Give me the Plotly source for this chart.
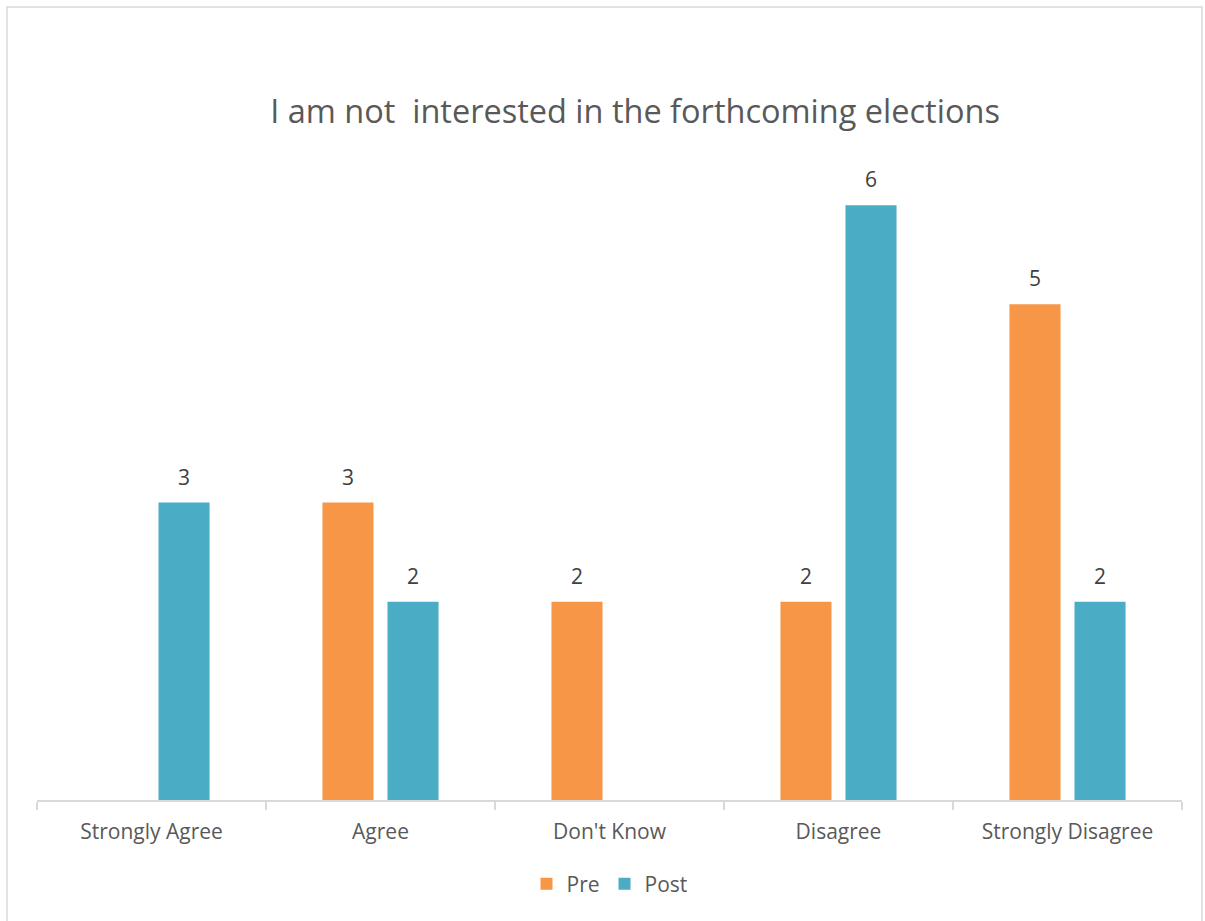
import plotly.graph_objects as go

categories = ["Strongly Agree", "Agree", "Don't Know", "Disagree", "Strongly Disagree"]
pre_values = [None, 3, 2, 2, 5]
post_values = [3, 2, None, 6, 2]
series_names = ["Pre", "Post"]
colors = ["#F79646", "#4BACC6"]
title_text = "I am not  interested in the forthcoming elections"

FONT = "Open Sans, Lato, sans-serif"

W, H = 1205, 921
ml, mr, mt, mb = 37, 23, 106, 121
pw, ph = W - ml - mr, H - mt - mb
BARGAP, GROUPGAP = 0.432, 0.215

fig = go.Figure()
for name, vals, col in zip(series_names, [pre_values, post_values], colors):
    fig.add_trace(go.Bar(
        name=name, x=categories, y=vals, marker_color=col,
        marker_line_width=0,
    ))

# data labels centred over each bar, offset derived from the bar layout
slot = pw / len(categories) * (1 - BARGAP) / len(series_names)
annotations = []
for i, vals in enumerate([pre_values, post_values]):
    shift = (i - (len(series_names) - 1) / 2) * slot
    for cat, v in zip(categories, vals):
        if v is None:
            continue
        annotations.append(dict(
            x=cat, y=v, xref="x", yref="y", text=str(v), showarrow=False,
            xshift=shift, yshift=26, yanchor="middle",
            font=dict(size=21, color="#404040", family=FONT),
        ))

fig.update_layout(
    width=W, height=H,
    margin=dict(l=ml, r=mr, t=mt, b=mb),
    paper_bgcolor="white", plot_bgcolor="white",
    barmode="group", bargap=BARGAP, bargroupgap=GROUPGAP,
    title=dict(text=title_text, xref="paper", x=(635 - ml) / pw, xanchor="center",
               y=1 - 112 / H, yanchor="middle",
               font=dict(size=32.5, color="#595959", family=FONT)),
    xaxis=dict(showline=True, linecolor="#D9D9D9", linewidth=1.5,
               ticks="outside", tickson="boundaries", ticklen=8, tickcolor="#D9D9D9",
               tickwidth=1.5, ticklabelstandoff=12,
               tickfont=dict(size=21, color="#595959", family=FONT),
               showgrid=False, zeroline=False),
    yaxis=dict(range=[0, 7], visible=False, showgrid=False),
    legend=dict(orientation="h", x=0.5, xanchor="center", y=-(884 - (H - mb)) / ph, yanchor="middle",
                font=dict(size=21, color="#595959", family=FONT), itemwidth=30),
    showlegend=True,
    annotations=annotations,
    shapes=[dict(type="rect", xref="paper", yref="paper",
                 x0=(7 - ml) / pw, x1=(1202 - ml) / pw,
                 y0=-(H + 20 - (H - mb)) / ph, y1=((H - mb) - 7) / ph,
                 line=dict(color="#D9D9D9", width=1.5), fillcolor="rgba(0,0,0,0)", layer="below")],
)

fig.write_html("out.html")
